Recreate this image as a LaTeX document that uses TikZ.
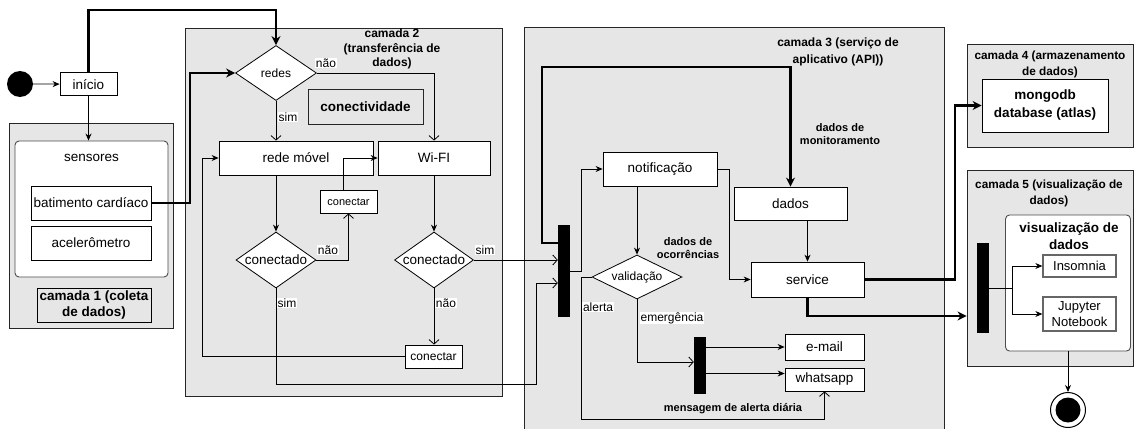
\documentclass[tikz,border=0pt]{standalone}
\usepackage{fontspec}
\setmainfont{Liberation Sans}
\usetikzlibrary{arrows.meta,shapes.geometric,calc}
\definecolor{layer}{HTML}{E6E6E6}
\tikzset{
  layerbox/.style={draw=black!85, fill=layer, line width=0.9pt, inner sep=0pt},
  box/.style={draw=black, fill=white, line width=0.8pt, inner sep=1pt, align=center, font=\fontsize{13.5}{16}\selectfont},
  smallbox/.style={box, font=\fontsize{11}{13}\selectfont},
  grbox/.style={box, draw=black!60, line width=1.3pt, font=\fontsize{13}{16.5}\selectfont},
  dec/.style={diamond, draw=black, fill=white, line width=0.8pt, inner sep=0pt},
  forkbar/.style={fill=black, draw=none, minimum width=12pt, inner sep=0pt},
  arr/.style={draw, line width=0.8pt, -{Stealth[length=7pt,width=6pt]}},
  oarr/.style={draw, line width=0.8pt, -{Straight Barb[length=4.5pt,width=10pt]}},
  tarr/.style={draw, line width=2.2pt, -{Stealth[length=9pt,width=9pt]}},
  elabel/.style={fill=white, inner sep=0.8pt, font=\fontsize{12}{14}\selectfont},
  blabel/.style={font=\bfseries\fontsize{11}{13}\selectfont, align=center, inner sep=0pt},
  ltitle/.style={font=\bfseries\fontsize{12}{14.5}\selectfont, align=center, inner sep=0pt},
}
\begin{document}
\begin{tikzpicture}[x=1pt,y=-1pt]
\useasboundingbox (0,0) rectangle (1134,428);
% layers
\node[layerbox, minimum width=164pt, minimum height=205pt] (l1) at (91,225.5) {};
\node[layerbox, minimum width=317pt, minimum height=368pt] (l2) at (343.5,212) {};
\node[layerbox, minimum width=420pt, minimum height=413pt] (l3) at (734,233.5) {};
\node[layerbox, minimum width=166.5pt, minimum height=103pt] (l4) at (1050.25,95.5) {};
\node[layerbox, minimum width=166.5pt, minimum height=196pt] (l5) at (1050.25,268) {};
% titles
\node[ltitle] (t2) at (392,49) {camada 2\\(transferência de\\dados)};
\node[ltitle, font=\bfseries\fontsize{12}{17.5}\selectfont] (t3) at (838,52) {camada 3 (serviço de\\aplicativo (API))};
\node[ltitle, font=\bfseries\fontsize{11.8}{16}\selectfont] (t4) at (1050,64) {camada 4 (armazenamento\\de dados)};
\node[ltitle, font=\bfseries\fontsize{11.8}{16}\selectfont] (t5) at (1049,193) {camada 5 (visualização de\\dados)};
% layer 1
\node[circle, fill=black, minimum size=26pt, inner sep=0pt] (start) at (20,84) {};
\node[box, minimum width=57pt, minimum height=23pt] (inicio) at (88.5,84.2) {início};
\node[draw=black!70, fill=white, line width=0.9pt, rounded corners=4pt, minimum width=153pt, minimum height=136pt, inner sep=0pt] (sens) at (91.5,209) {};
\node[font=\fontsize{13.5}{16}\selectfont, inner sep=0pt] (senstxt) at (91.5,158) {sensores};
\node[box, minimum width=120pt, minimum height=34pt] (bat) at (91,203) {batimento cardíaco};
\node[box, minimum width=120pt, minimum height=34pt] (acel) at (91,243) {acelerômetro};
\node[draw=black, line width=0.9pt, minimum width=114pt, minimum height=34pt, inner sep=1pt, align=center, font=\bfseries\fontsize{13.5}{15.5}\selectfont] (l1lab) at (94,305) {camada 1 (coleta\\de dados)};
% layer 2
\node[dec, minimum width=81pt, minimum height=55pt, aspect=1.47, font=\fontsize{12}{14}\selectfont] (redes) at (276,73) {redes};
\node[draw=black!85, line width=0.9pt, minimum width=115pt, minimum height=35pt, inner sep=1pt, font=\bfseries\fontsize{13.5}{16}\selectfont] (conect) at (365.5,106.5) {conectividade};
\node[box, minimum width=154pt, minimum height=34pt] (redemovel) at (296,158) {rede móvel};
\node[box, minimum width=112pt, minimum height=34pt] (wifi) at (434,158) {Wi-FI};
\node[smallbox, minimum width=57pt, minimum height=23pt] (conectar1) at (348.5,201.5) {conectar};
\node[dec, minimum width=80pt, minimum height=56pt, aspect=1.43, font=\fontsize{13.5}{16}\selectfont] (conectadoL) at (276,260) {conectado};
\node[dec, minimum width=79pt, minimum height=56pt, aspect=1.41, font=\fontsize{13.5}{16}\selectfont] (conectadoR) at (434,260) {conectado};
\node[smallbox, minimum width=57pt, minimum height=23pt, font=\fontsize{12}{14}\selectfont] (conectar2) at (433.5,356.5) {conectar};
% layer 3
\node[forkbar, minimum height=92pt] (bar1) at (564,271) {};
\node[box, minimum width=114pt, minimum height=34pt] (notif) at (660,169) {notificação};
\node[box, minimum width=113pt, minimum height=33pt] (dados) at (790.5,203.5) {dados};
\node[dec, minimum width=90pt, minimum height=44pt, aspect=2.05, font=\fontsize{12}{14}\selectfont] (validacao) at (637,277) {validação};
\node[box, minimum width=113pt, minimum height=35pt] (service) at (807.5,279.5) {service};
\node[forkbar, minimum height=57pt] (bar2) at (700,365.5) {};
\node[box, minimum width=79pt, minimum height=26pt] (email) at (824.5,347) {e-mail};
\node[box, minimum width=79pt, minimum height=23pt] (whatsapp) at (824.5,379.5) {whatsapp};
\node[blabel] (lmon) at (840,134.5) {dados de\\monitoramento};
\node[blabel] (locc) at (688,248) {dados de\\ocorrências};
\node[blabel] (lmsg) at (733,409) {mensagem de alerta diária};
% layer 4
\node[box, minimum width=126pt, minimum height=53pt, font=\bfseries\fontsize{13.5}{18}\selectfont] (mongodb) at (1045,105.5) {mongodb\\database (atlas)};
% layer 5
\node[draw=black!70, fill=white, line width=0.9pt, rounded corners=4pt, minimum width=125pt, minimum height=136pt, inner sep=0pt] (viz) at (1068,283) {};
\node[font=\bfseries\fontsize{13.5}{17}\selectfont, align=center, inner sep=0pt] (viztxt) at (1069,236.5) {visualização de\\dados};
\node[forkbar, minimum height=90pt] (bar3) at (983,288) {};
\node[grbox, minimum width=73pt, minimum height=22pt] (insomnia) at (1079.5,266) {Insomnia};
\node[grbox, minimum width=73pt, minimum height=34pt] (jupyter) at (1079.5,314) {Jupyter\\Notebook};
\node[circle, draw=black, line width=1pt, fill=white, minimum size=35pt, inner sep=0pt] (endc) at (1068,410) {};
\node[circle, fill=black, minimum size=25pt, inner sep=0pt] (endin) at (endc.center) {};
% helper coordinates
\coordinate (topy) at (0,10);
\coordinate (jA) at (190,0);
\coordinate (jB) at (202,0);
\coordinate (jC) at (536,384);
\coordinate (jD) at (542,0);
\coordinate (jE) at (581,0);
\coordinate (jF) at (729,0);
\coordinate (jG) at (955,0);
\coordinate (jH) at (1012,0);
\coordinate (b1low) at ($(bar1.west)+(0,12)$);
\coordinate (b1up) at ($(bar1.west)+(0,-28)$);
\coordinate (dtop) at ($(dados.north)+(0,-120)$);
\coordinate (wabot) at ($(whatsapp.south)+(0,28)$);
\coordinate (wain) at ($(whatsapp.west)+(0,-6)$);
\coordinate (b2in) at ($(bar2.west)+(0,-3.5)$);
\coordinate (b3in) at (l5.west |- 0,316);
% edges
\draw[arr] (start) -- (inicio);
\draw[arr] (inicio.south) -- (inicio.south |- sens.north);
\draw[tarr] (inicio.north) -- (inicio.north |- topy) -| (redes.north);
\draw[tarr] (bat.east) -- (bat.east -| jA) |- (redes.west);
\draw[oarr] (redes.east) -| (wifi.north);
\draw[oarr] (redes.south) -- (redes.south |- redemovel.north);
\draw[arr] (redes.south |- redemovel.south) -- (conectadoL.north);
\draw[oarr] (conectadoL.east) -| (conectar1.south);
\draw[arr] ($(conectar1.north)+(-5,0)$) |- (wifi.west);
\draw[arr] (wifi.south) -- (conectadoR.north);
\draw[oarr] (conectadoR.east) -- (conectadoR.east -| bar1.west);
\draw[oarr] (conectadoR.south) -- (conectadoR.south |- conectar2.north);
\draw[arr] (conectar2.west) -- (conectar2.west -| jB) |- (redemovel.west);
\draw[oarr] (conectadoL.south) |- (jC) -- (jC |- b1low) -- (b1low);
\draw[tarr] (b1up) -- (b1up -| jD) |- (dtop) -- (dados.north);
\draw[arr] (bar1.east) -- (bar1.east -| jE) |- (notif.west);
\draw[arr] (notif.east) -- (notif.east -| jF) |- (service.west);
\draw[arr] (notif.south -| validacao.north) -- (validacao.north);
\draw[oarr] (validacao.west) -- (validacao.west -| jE) |- (wabot) -- (whatsapp.south);
\draw[oarr] (validacao.south) |- (b2in);
\draw[arr] (bar2.east |- email.west) -- (email.west);
\draw[arr] (bar2.east |- wain) -- (wain);
\draw[arr] (service.north |- dados.south) -- (service.north);
\draw[tarr] (service.east) -- (service.east -| jG) |- (mongodb.west);
\draw[tarr] (service.south) |- (b3in);
\draw[arr] (bar3.east) -- (bar3.east -| jH) |- (insomnia.west);
\draw[arr] (bar3.east -| jH) |- (jupyter.west);
\draw[arr] (viz.south -| endc.north) -- (endc.north);
% edge labels
\node[elabel] (e1) at (326,63) {não};
\node[elabel] (e2) at (288,117) {sim};
\node[elabel] (e3) at (328,250) {não};
\node[elabel] (e4) at (485,250) {sim};
\node[elabel] (e5) at (446,303) {não};
\node[elabel] (e6) at (287,303) {sim};
\node[elabel] (e7) at (598,307) {alerta};
\node[elabel] (e8) at (672,318) {emergência};
\end{tikzpicture}
\end{document}
